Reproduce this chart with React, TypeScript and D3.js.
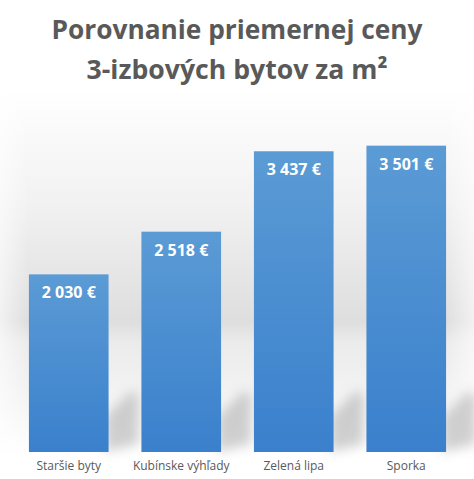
import React from "react";
import * as d3 from "d3";

const categories = ["Staršie byty", "Kubínske výhľady", "Zelená lipa", "Sporka"];
const values = [2030, 2518, 3437, 3501];
const valueLabels = ["2 030 €", "2 518 €", "3 437 €", "3 501 €"];
const titleLines = ["Porovnanie priemernej ceny", "3-izbových bytov za m²"];

const W = 474;
const H = 479;
const FONT = "'Open Sans', 'Noto Sans', sans-serif";

export default function App() {
  const x = d3
    .scaleBand<string>()
    .domain(categories)
    .range([12.5, 462.5])
    .paddingInner(0.292)
    .paddingOuter(0.146);
  const y = d3.scaleLinear().domain([0, 4000]).range([452, 102]);
  const bw = x.bandwidth();

  return (
    <svg
      width={W}
      height={H}
      style={{ position: "absolute", left: 0, top: 0 }}
      viewBox={`0 0 ${W} ${H}`}
    >
      <defs>
        <linearGradient id="bg" x1="0" y1="0" x2="0" y2={H} gradientUnits="userSpaceOnUse">
          <stop offset={90 / H} stopColor="#ffffff" />
          <stop offset={200 / H} stopColor="#f2f2f2" />
          <stop offset={322 / H} stopColor="#dedede" />
          <stop offset={342 / H} stopColor="#ebebeb" />
          <stop offset={400 / H} stopColor="#f4f4f4" />
          <stop offset={455 / H} stopColor="#ffffff" />
        </linearGradient>
        <linearGradient id="side" x1="0" y1="0" x2="1" y2="0">
          <stop offset="0" stopColor="#ffffff" stopOpacity="0.6" />
          <stop offset="0.06" stopColor="#ffffff" stopOpacity="0" />
          <stop offset="0.94" stopColor="#ffffff" stopOpacity="0" />
          <stop offset="1" stopColor="#ffffff" stopOpacity="0.6" />
        </linearGradient>
        <linearGradient id="bar" x1="0" y1="0" x2="0" y2="1">
          <stop offset="0" stopColor="#5b9bd5" />
          <stop offset="1" stopColor="#3a80cc" />
        </linearGradient>
        <filter id="blur" x="-50%" y="-50%" width="200%" height="200%">
          <feGaussianBlur stdDeviation="6" />
        </filter>
      </defs>
      <rect x={0} y={0} width={W} height={H} fill="url(#bg)" />
      <rect x={0} y={0} width={W} height={H} fill="url(#side)" />

      {titleLines.map((t, i) => (
        <text
          key={t}
          x={W / 2}
          y={39 + i * 40}
          textAnchor="middle"
          fontFamily={FONT}
          fontWeight={700}
          fontSize={27}
          fill="#595959"
          textLength={i === 0 ? 371 : 301}
          lengthAdjust="spacingAndGlyphs"
        >
          {t}
        </text>
      ))}

      {categories.map((c) => {
        const x0 = x(c)! + bw;
        const b = y(0);
        const pts = [
          [x0 - 4, b],
          [x0 - 4, b - 35],
          [x0 + 24, b - 62],
          [x0 + 30, b - 55],
          [x0 + 30, b - 8],
        ]
          .map((p) => p.join(","))
          .join(" ");
        return (
          <polygon key={"s" + c} points={pts} fill="#9a9a9a" opacity={0.45} filter="url(#blur)" />
        );
      })}

      {categories.map((c, i) => (
        <g key={c}>
          <rect
            x={x(c)}
            y={y(values[i])}
            width={bw}
            height={y(0) - y(values[i])}
            fill="url(#bar)"
          />
          <text
            x={x(c)! + bw / 2}
            y={y(values[i]) + 24}
            textAnchor="middle"
            fontFamily={FONT}
            fontWeight={700}
            fontSize={16}
            fill="#ffffff"
          >
            {valueLabels[i]}
          </text>
          <text
            x={x(c)! + bw / 2}
            y={470}
            textAnchor="middle"
            fontFamily={FONT}
            fontSize={12}
            fill="#595959"
          >
            {c}
          </text>
        </g>
      ))}
    </svg>
  );
}
